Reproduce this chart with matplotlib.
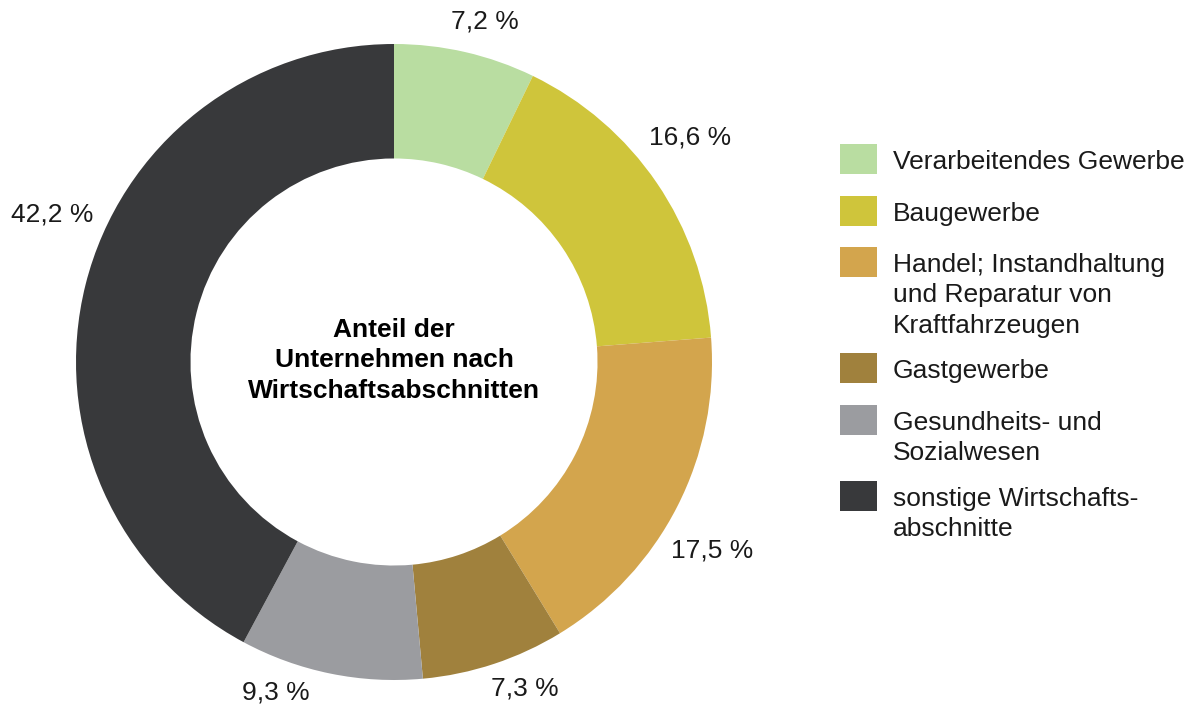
import numpy as np
import matplotlib.pyplot as plt

plt.rcParams['font.family'] = ['Liberation Sans', 'DejaVu Sans']

## DATA
kategorien = ['Verarbeitendes Gewerbe',
              'Baugewerbe',
              'Handel; Instandhaltung\nund Reparatur von\nKraftfahrzeugen',
              'Gastgewerbe',
              'Gesundheits- und\nSozialwesen',
              'sonstige Wirtschafts-\nabschnitte']
anteile = [7.2, 16.6, 17.5, 7.3, 9.3, 42.2]  # %
farben = ['#b9dda1', '#cfc53b', '#d3a54d', '#a0813d', '#9b9ca0', '#38393b']
titel = 'Anteil der\nUnternehmen nach\nWirtschaftsabschnitten'

# Layout der Prozent-Beschriftung (Winkelversatz in Grad, Abstand in Radien)
label_nudge = [2, -3, 3.5, -3.6, 8, 9]
label_r = [1.107, 1.17, 1.163, 1.107, 1.104, 1.17]

W, H = 1192, 709
fig = plt.figure(figsize=(W/100, H/100), dpi=100)
cx, cy, R = 394, 362, 318
ax = fig.add_axes([(cx-R)/W, (H-cy-R)/H, 2*R/W, 2*R/H])

wedges, _ = ax.pie(anteile, colors=farben, startangle=90, counterclock=False,
                   radius=1, wedgeprops=dict(width=0.36, linewidth=0))
ax.set_xlim(-1, 1)
ax.set_ylim(-1, 1)
ax.set_aspect('equal')
ax.axis('off')

# Prozentwerte
cum = np.cumsum([0] + anteile[:-1])
for i, (a, c0) in enumerate(zip(anteile, cum)):
    ang = np.deg2rad((c0 + a/2)/100*360 + label_nudge[i])
    x = label_r[i]*np.sin(ang)
    y = label_r[i]*np.cos(ang)
    ax.text(x, y, f"{a:.1f} %".replace('.', ','), ha='center', va='center',
            fontsize=19, color='#1a1a1a')

ax.text(0, 0.005, titel, ha='center', va='center', fontsize=19,
        fontweight='bold', linespacing=1.33, color='black')

# Legende: Kästchen oben an erster Textzeile, etwas höher als der Text
leg = fig.legend(wedges, kategorien, loc='upper left',
                 bbox_to_anchor=(840/W, 1-150/H), frameon=False, fontsize=19,
                 handlelength=1.4, handleheight=1.37, handletextpad=0.6,
                 labelspacing=0.82, borderpad=0, borderaxespad=0)
for t in leg.get_texts():
    t.set_linespacing(1.33)
    t.set_color('#1a1a1a')
for col in leg._legend_handle_box.get_children():
    for row in col.get_children():
        row.align = 'top'
for r in leg.legend_handles:
    r.set_y(r.get_y() + 6*72/100)

fig.savefig('out.png', dpi=100)
